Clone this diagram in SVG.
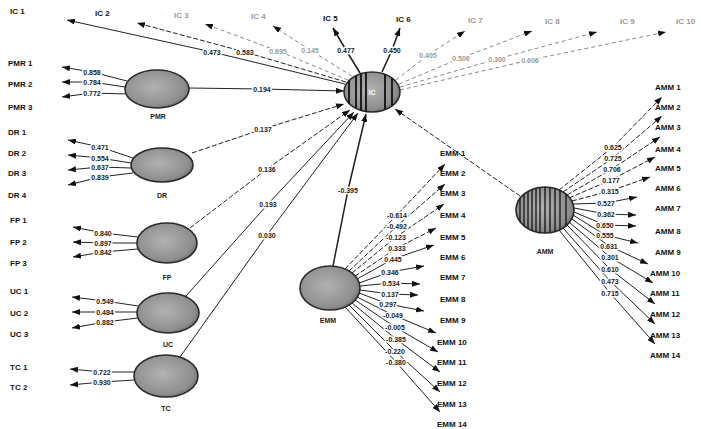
<svg xmlns="http://www.w3.org/2000/svg" xmlns:xlink="http://www.w3.org/1999/xlink" width="701" height="429" viewBox="0 0 701 429">
<style>
.ind{font-family:"Liberation Sans",Arial,sans-serif;font-size:8px;font-weight:bold;fill:#111}
.lat{font-family:"Liberation Sans",Arial,sans-serif;font-size:7px;font-weight:bold;fill:#222;text-anchor:middle}
.ld{font-family:"Liberation Sans",Arial,sans-serif;font-size:7px;font-weight:bold;fill:#222;text-anchor:middle;dominant-baseline:central}
.halo{stroke:#fff;stroke-width:3px;stroke-linejoin:round}
.faint{fill:#9a9a9a}
.e{fill:url(#g);stroke:#2a2a2a;stroke-width:1.6}
.c path{fill:none;stroke:#222;stroke-width:1;marker-end:url(#a)}
.c .d{stroke-dasharray:5 2}
.c .lt{stroke:#888;stroke-dasharray:4 3}
.s{stroke:#111;stroke-width:1.8}
</style>
<defs>
<radialGradient id="g" cx="0.45" cy="0.45" r="0.6">
<stop offset="0" stop-color="#b2b2b2"/><stop offset="0.8" stop-color="#8e8e8e"/><stop offset="1" stop-color="#6a6a6a"/>
</radialGradient>
<marker id="a" viewBox="0 0 8 6" refX="8" refY="3" markerWidth="8" markerHeight="6" markerUnits="userSpaceOnUse" orient="auto">
<path d="M0,0 L8,3 L0,6 z" fill="#111"/>
</marker>
<clipPath id="cic"><ellipse cx="372" cy="92" rx="28" ry="20"/></clipPath>
<clipPath id="camm"><ellipse cx="545" cy="210" rx="29" ry="23"/></clipPath>
</defs>
<rect width="701" height="429" fill="#fff"/>

<g id="connectors" class="c">
<path d="M345,84 L212,52 L67,20"/>
<path class="d" d="M346,82 L245,52 L137,23"/>
<path class="lt" d="M348,80 L278,51 L205,24"/>
<path class="lt" d="M352,76 L310,50 L273,26"/>
<path style="stroke-width:1.6" d="M360,73 L346,50 L333,28"/>
<path style="stroke-width:1.6" d="M382,72 L392,50 L400,28"/>
<path class="lt" d="M396,80 L428,55 L465,31"/>
<path class="lt" d="M399,84 L461,58 L532,31"/>
<path class="lt" d="M400,87 L497,59 L597,32"/>
<path class="lt" d="M400,90 L530,60 L666,32"/>
<path d="M127,81 L92,72 L62,67"/>
<path d="M125,87 L92,82 L62,82"/>
<path d="M127,94 L92,93 L62,97"/>
<path d="M133,158 L100,147 L68,140"/>
<path d="M131,163 L100,158 L68,155"/>
<path d="M131,168 L100,167 L68,170"/>
<path d="M133,173 L100,177 L68,185"/>
<path d="M138,237 L103,233 L73,227"/>
<path d="M137,243 L103,243 L73,242"/>
<path d="M138,249 L103,252 L73,257"/>
<path d="M138,306 L105,301 L72,297"/>
<path d="M137,312 L105,312 L72,312"/>
<path d="M138,318 L105,322 L72,328"/>
<path d="M134,372 L102,372 L70,369"/>
<path d="M134,380 L102,382 L70,385"/>
<path d="M189,88 L262,89 L344,91"/>
<path class="d" d="M192,153 L263,129 L344,104"/>
<path class="d" d="M190,228 L267,169 L350,110"/>
<path d="M186,296 L268,204 L354,112"/>
<path d="M180,357 L267,235 L358,113"/>
<path style="stroke-width:1.5" d="M333,266 L348,190 L366,114"/>
<path class="d" d="M520,196 L395,109"/>
<path class="d" d="M345,269 L397,215 L445,164"/>
<path class="d" d="M349,271 L397,226 L445,184"/>
<path class="d" d="M352,273 L396,237 L444,204"/>
<path class="d" d="M355,276 L397,248 L436,228"/>
<path d="M357,279 L393,259 L434,245"/>
<path d="M359,283 L390,272 L424,266"/>
<path d="M360,286 L391,283 L420,284"/>
<path d="M360,290 L390,294 L418,295"/>
<path d="M359,293 L388,304 L424,311"/>
<path d="M357,297 L393,315 L436,333"/>
<path d="M355,300 L395,327 L438,352"/>
<path d="M352,303 L396,339 L440,372"/>
<path d="M349,305 L395,351 L440,392"/>
<path d="M345,307 L396,362 L440,412"/>
<path class="d" d="M559,190 L613,147 L662,97"/>
<path class="d" d="M563,192 L613,158 L662,116"/>
<path class="d" d="M567,195 L612,169 L660,137"/>
<path class="d" d="M569,198 L611,180 L655,157"/>
<path class="d" d="M572,201 L610,191 L650,177"/>
<path d="M573,204 L606,203 L637,197"/>
<path d="M574,208 L606,214 L636,215"/>
<path d="M574,212 L605,225 L636,226"/>
<path d="M573,215 L605,235 L638,243"/>
<path d="M572,219 L609,246 L648,264"/>
<path d="M569,222 L610,257 L653,283"/>
<path d="M567,225 L610,269 L655,304"/>
<path d="M563,228 L610,281 L655,324"/>
<path d="M559,230 L610,293 L655,344"/>
</g>

<g id="node-IC">
<ellipse class="e" cx="372" cy="92" rx="28" ry="20"/>
<g clip-path="url(#cic)">
<line class="s" x1="349" y1="60" x2="349" y2="120"/>
<line class="s" x1="356" y1="60" x2="356" y2="120"/>
<line class="s" x1="361" y1="60" x2="361" y2="120"/>
<line class="s" x1="366" y1="60" x2="366" y2="120"/>
<line class="s" x1="385" y1="60" x2="385" y2="120"/>
<line class="s" x1="392" y1="60" x2="392" y2="120"/>
</g>
<text class="lat" x="372" y="95" style="fill:#fff">IC</text>
</g>

<g id="node-PMR">
<ellipse class="e" cx="157" cy="89" rx="32" ry="19"/>
<text class="lat" x="158" y="119">PMR</text>
</g>
<g id="node-DR">
<ellipse class="e" cx="162" cy="165" rx="31" ry="17"/>
<text class="lat" x="162" y="198">DR</text>
</g>
<g id="node-FP">
<ellipse class="e" cx="167" cy="243" rx="30" ry="20"/>
<text class="lat" x="167" y="280">FP</text>
</g>
<g id="node-UC">
<ellipse class="e" cx="168" cy="313" rx="31" ry="20"/>
<text class="lat" x="168" y="347">UC</text>
</g>
<g id="node-TC">
<ellipse class="e" cx="166" cy="376" rx="32" ry="21"/>
<text class="lat" x="166" y="411">TC</text>
</g>
<g id="node-EMM">
<ellipse class="e" cx="330" cy="288" rx="30" ry="22"/>
<text class="lat" x="328" y="323">EMM</text>
</g>
<g id="node-AMM">
<ellipse class="e" cx="545" cy="210" rx="29" ry="23"/>
<g clip-path="url(#camm)" stroke="#111" stroke-width="1.3">
<line x1="520" y1="180" x2="520" y2="240"/><line x1="524" y1="180" x2="524" y2="240"/>
<line x1="528" y1="180" x2="528" y2="240"/><line x1="532" y1="180" x2="532" y2="240"/>
<line x1="536" y1="180" x2="536" y2="240"/><line x1="540" y1="180" x2="540" y2="240"/>
<line x1="545" y1="180" x2="545" y2="240"/><line x1="550" y1="180" x2="550" y2="240"/>
<line x1="555" y1="180" x2="555" y2="240"/><line x1="560" y1="180" x2="560" y2="240"/>
<line x1="566" y1="180" x2="566" y2="240"/>
</g>
<text class="lat" x="545" y="254">AMM</text>
</g>

<g id="indicator-labels">
<text class="ind" x="10" y="14">IC 1</text>
<text class="ind" x="95" y="16">IC 2</text>
<text class="ind faint" x="174" y="18">IC 3</text>
<text class="ind faint" x="251" y="19">IC 4</text>
<text class="ind" x="323" y="21">IC 5</text>
<text class="ind" x="396" y="22">IC 6</text>
<text class="ind faint" x="468" y="23">IC 7</text>
<text class="ind faint" x="545" y="24">IC 8</text>
<text class="ind faint" x="620" y="24">IC 9</text>
<text class="ind faint" x="676" y="24">IC 10</text>

<text class="ind" x="8" y="66">PMR 1</text>
<text class="ind" x="8" y="87">PMR 2</text>
<text class="ind" x="8" y="110">PMR 3</text>
<text class="ind" x="8" y="135">DR 1</text>
<text class="ind" x="8" y="156">DR 2</text>
<text class="ind" x="8" y="176">DR 3</text>
<text class="ind" x="8" y="198">DR 4</text>
<text class="ind" x="10" y="223">FP 1</text>
<text class="ind" x="10" y="245">FP 2</text>
<text class="ind" x="10" y="266">FP 3</text>
<text class="ind" x="10" y="294">UC 1</text>
<text class="ind" x="10" y="316">UC 2</text>
<text class="ind" x="10" y="337">UC 3</text>
<text class="ind" x="10" y="370">TC 1</text>
<text class="ind" x="10" y="390">TC 2</text>

<text class="ind" x="440" y="156">EMM 1</text>
<text class="ind" x="440" y="176">EMM 2</text>
<text class="ind" x="440" y="196">EMM 3</text>
<text class="ind" x="440" y="218">EMM 4</text>
<text class="ind" x="440" y="240">EMM 5</text>
<text class="ind" x="440" y="260">EMM 6</text>
<text class="ind" x="440" y="280">EMM 7</text>
<text class="ind" x="440" y="302">EMM 8</text>
<text class="ind" x="440" y="323">EMM 9</text>
<text class="ind" x="437" y="345">EMM 10</text>
<text class="ind" x="437" y="365">EMM 11</text>
<text class="ind" x="437" y="386">EMM 12</text>
<text class="ind" x="437" y="407">EMM 13</text>
<text class="ind" x="437" y="427">EMM 14</text>

<text class="ind" x="655" y="90">AMM 1</text>
<text class="ind" x="655" y="110">AMM 2</text>
<text class="ind" x="655" y="130">AMM 3</text>
<text class="ind" x="655" y="152">AMM 4</text>
<text class="ind" x="655" y="171">AMM 5</text>
<text class="ind" x="655" y="191">AMM 6</text>
<text class="ind" x="655" y="211">AMM 7</text>
<text class="ind" x="655" y="234">AMM 8</text>
<text class="ind" x="655" y="255">AMM 9</text>
<text class="ind" x="650" y="276">AMM 10</text>
<text class="ind" x="650" y="296">AMM 11</text>
<text class="ind" x="650" y="317">AMM 12</text>
<text class="ind" x="650" y="338">AMM 13</text>
<text class="ind" x="650" y="358">AMM 14</text>
</g>

<use xlink:href="#loadings" href="#loadings" class="halo"/>
<g id="loadings">
<text class="ld" x="212" y="52">0.473</text>
<text class="ld" x="245" y="52">0.583</text>
<text class="ld faint" x="278" y="51">0.695</text>
<text class="ld faint" x="310" y="50">0.145</text>
<text class="ld" x="346" y="50">0.477</text>
<text class="ld" x="392" y="50">0.450</text>
<text class="ld faint" x="428" y="55">0.405</text>
<text class="ld faint" x="461" y="58">0.506</text>
<text class="ld faint" x="497" y="59">0.300</text>
<text class="ld faint" x="530" y="60">0.606</text>

<text class="ld" x="92" y="72">0.858</text>
<text class="ld" x="92" y="82">0.784</text>
<text class="ld" x="92" y="93">0.772</text>
<text class="ld" x="100" y="147">0.471</text>
<text class="ld" x="100" y="158">0.554</text>
<text class="ld" x="100" y="167">0.637</text>
<text class="ld" x="100" y="177">0.839</text>
<text class="ld" x="103" y="233">0.840</text>
<text class="ld" x="103" y="243">0.897</text>
<text class="ld" x="103" y="252">0.842</text>
<text class="ld" x="105" y="301">0.549</text>
<text class="ld" x="105" y="312">0.484</text>
<text class="ld" x="105" y="322">0.882</text>
<text class="ld" x="102" y="372">0.722</text>
<text class="ld" x="102" y="382">0.930</text>

<text class="ld" x="262" y="89">0.194</text>
<text class="ld" x="263" y="129">0.137</text>
<text class="ld" x="267" y="169">0.136</text>
<text class="ld" x="268" y="204">0.193</text>
<text class="ld" x="267" y="235">0.030</text>
<text class="ld" x="348" y="190">-0.395</text>

<text class="ld" x="397" y="215">-0.614</text>
<text class="ld" x="397" y="226">-0.492</text>
<text class="ld" x="396" y="237">-0.123</text>
<text class="ld" x="397" y="248">0.333</text>
<text class="ld" x="393" y="259">0.445</text>
<text class="ld" x="390" y="272">0.346</text>
<text class="ld" x="391" y="283">0.534</text>
<text class="ld" x="390" y="294">0.137</text>
<text class="ld" x="388" y="304">0.297</text>
<text class="ld" x="393" y="315">-0.049</text>
<text class="ld" x="395" y="327">-0.005</text>
<text class="ld" x="396" y="339">-0.385</text>
<text class="ld" x="395" y="351">-0.220</text>
<text class="ld" x="396" y="362">-0.380</text>

<text class="ld" x="613" y="147">0.625</text>
<text class="ld" x="613" y="158">0.725</text>
<text class="ld" x="612" y="169">0.706</text>
<text class="ld" x="611" y="180">0.177</text>
<text class="ld" x="610" y="191">0.315</text>
<text class="ld" x="606" y="203">0.527</text>
<text class="ld" x="606" y="214">0.362</text>
<text class="ld" x="605" y="225">0.650</text>
<text class="ld" x="605" y="235">0.555</text>
<text class="ld" x="609" y="246">0.631</text>
<text class="ld" x="610" y="257">0.301</text>
<text class="ld" x="610" y="269">0.610</text>
<text class="ld" x="610" y="281">0.473</text>
<text class="ld" x="610" y="293">0.715</text>
</g>
</svg>
